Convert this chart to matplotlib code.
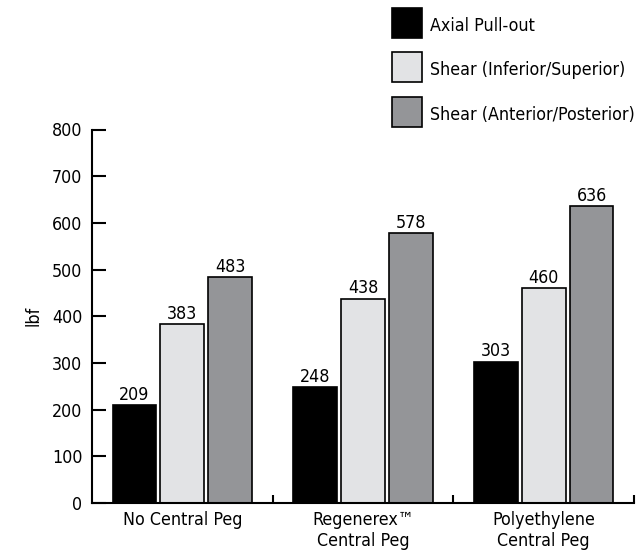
import matplotlib
matplotlib.use("Agg")
import matplotlib.pyplot as plt
from matplotlib.patches import Rectangle
import numpy as np

plt.rcParams['font.family'] = ['DejaVu Sans']
plt.rcParams['font.stretch'] = 'condensed'

# data
groups = ["No Central Peg", "Regenerex\u2122\nCentral Peg", "Polyethylene\nCentral Peg"]
series = ["Axial Pull-out", "Shear (Inferior/Superior)", "Shear (Anterior/Posterior)"]
axial = [209, 248, 303]
shear_is = [383, 438, 460]
shear_ap = [483, 578, 636]
colors = ["#000000", "#e2e3e5", "#949598"]
y_ticks = [0, 100, 200, 300, 400, 500, 600, 700, 800]

W, H = 644, 553
fig = plt.figure(figsize=(W / 100, H / 100), dpi=100)
ax = fig.add_axes([92 / W, 1 - 503 / H, 542 / W, 373.5 / H])

x = np.arange(len(groups))
pitch = 0.265
width = 0.243
fs = 12.8
for i, vals in enumerate([axial, shear_is, shear_ap]):
    pos = x + (i - 1) * pitch
    ax.bar(pos, vals, width=width, color=colors[i], edgecolor="black", linewidth=1.2)
    for p, v in zip(pos, vals):
        ax.annotate(str(v), (p, v), xytext=(0, 1), textcoords="offset points",
                    ha="center", va="bottom", fontsize=fs)

ax.set_xlim(-0.5, 2.5)
ax.set_ylim(0, 800)
ax.set_yticks(y_ticks)
ax.set_xticks(x)
ax.set_xticklabels(groups, fontsize=fs, linespacing=1.2)
ax.set_xticks([0.5, 1.5, 2.5], minor=True)
ax.tick_params(axis="x", which="major", length=0, pad=6)
ax.tick_params(axis="x", which="minor", direction="in", length=6, width=1.5)
ax.tick_params(axis="y", direction="in", length=10, width=1.5, pad=7, labelsize=fs)
for s in ["top", "right"]:
    ax.spines[s].set_visible(False)
for s in ["left", "bottom"]:
    ax.spines[s].set_linewidth(1.5)
ax.set_ylabel("lbf", fontsize=fs, labelpad=7)

# legend drawn by hand in figure pixels
legend_tops = [8, 52, 97]
for top, name, c in zip(legend_tops, series, colors):
    fig.add_artist(Rectangle((392 / W, 1 - (top + 30) / H), 30 / W, 30 / H,
                             transform=fig.transFigure, facecolor=c,
                             edgecolor="black", linewidth=1.2))
    fig.text(430 / W, 1 - (top + 18) / H, name, fontsize=fs, va="center", ha="left")

fig.savefig("out.png", dpi=100)
